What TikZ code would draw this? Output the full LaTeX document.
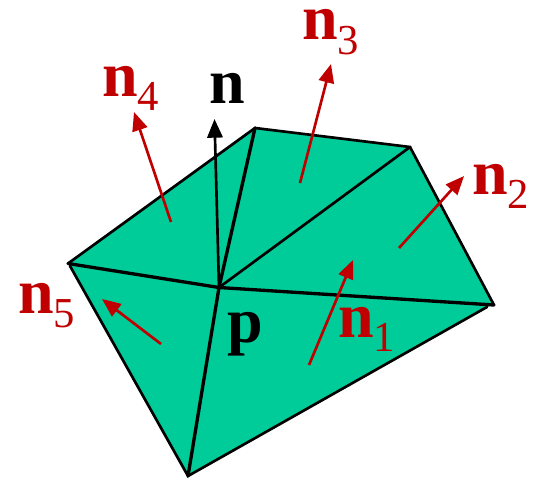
\documentclass[tikz,border=0pt]{standalone}
\usepackage{fontspec}
\setmainfont{Liberation Serif}
\usetikzlibrary{arrows.meta}
\definecolor{facegreen}{RGB}{0,204,153}
\definecolor{normred}{RGB}{192,0,0}
\tikzset{
  x=0.75pt,y=-0.75pt,
  edge/.style={line width=2pt,black,line cap=round},
  thickedge/.style={line width=2.5pt,black,line cap=round},
  rednormal/.style={draw=normred,line width=2pt,-{Triangle[length=14pt,width=11.5pt]}},
  blacknormal/.style={draw=black,line width=2pt,-{Triangle[length=14pt,width=11.5pt]}},
  redlabel/.style={text=normred,inner sep=0pt,anchor=base west,font=\fontsize{48pt}{48pt}\selectfont\bfseries},
  blacklabel/.style={text=black,inner sep=0pt,anchor=base west,font=\fontsize{48pt}{48pt}\selectfont\bfseries},
}
\newcommand{\nsub}[1]{n\raisebox{-11pt}{\fontsize{32pt}{32pt}\selectfont\mdseries #1}}
\begin{document}
\begin{tikzpicture}
\useasboundingbox (0,0) rectangle (534,478);
\coordinate (P) at (219,287.5);
\coordinate (A) at (255,128);
\coordinate (B) at (410,147);
\coordinate (C) at (494,305);
\coordinate (Cb) at (487,307);
\coordinate (D) at (188,476);
\coordinate (E) at (68,263.5);
\coordinate (Eb) at (70,266);
\fill[facegreen] (A)--(B)--(C)--(Cb)--(D)--(Eb)--(E)--cycle;
\draw[edge] (E)--(A)--(B)--(C);
\draw[edge] (Cb)--(D)--(Eb);
\draw[edge] (P)--(B);
\draw[thickedge] (P)--(E);
\draw[thickedge] (P)--(A);
\draw[thickedge] (P)--(C);
\draw[thickedge] (P)--(D);
\coordinate (n1s) at (309,365); \coordinate (n1e) at (353,260);
\coordinate (n2s) at (399,248); \coordinate (n2e) at (464,176);
\coordinate (n3s) at (300,183); \coordinate (n3e) at (331,64);
\coordinate (n4s) at (171,222); \coordinate (n4e) at (134,112);
\coordinate (n5s) at (161,344); \coordinate (n5e) at (102,299);
\coordinate (ne) at (214.5,119);
\draw[rednormal] (n1s)--(n1e);
\draw[rednormal] (n2s)--(n2e);
\draw[rednormal] (n3s)--(n3e);
\draw[rednormal] (n4s)--(n4e);
\draw[rednormal] (n5s)--(n5e);
\draw[blacknormal] (P)--(ne);
\node[redlabel] (l1) at (338,337) {\nsub{1}};
\node[redlabel] (l2) at (472,194) {\nsub{2}};
\node[redlabel] (l3) at (302,40) {\nsub{3}};
\node[redlabel] (l4) at (102,96) {\nsub{4}};
\node[redlabel] (l5) at (18,313) {\nsub{5}};
\node[blacklabel] (ln) at (209,103) {n};
\node[blacklabel] (lp) at (227,342) {p};
\end{tikzpicture}
\end{document}
